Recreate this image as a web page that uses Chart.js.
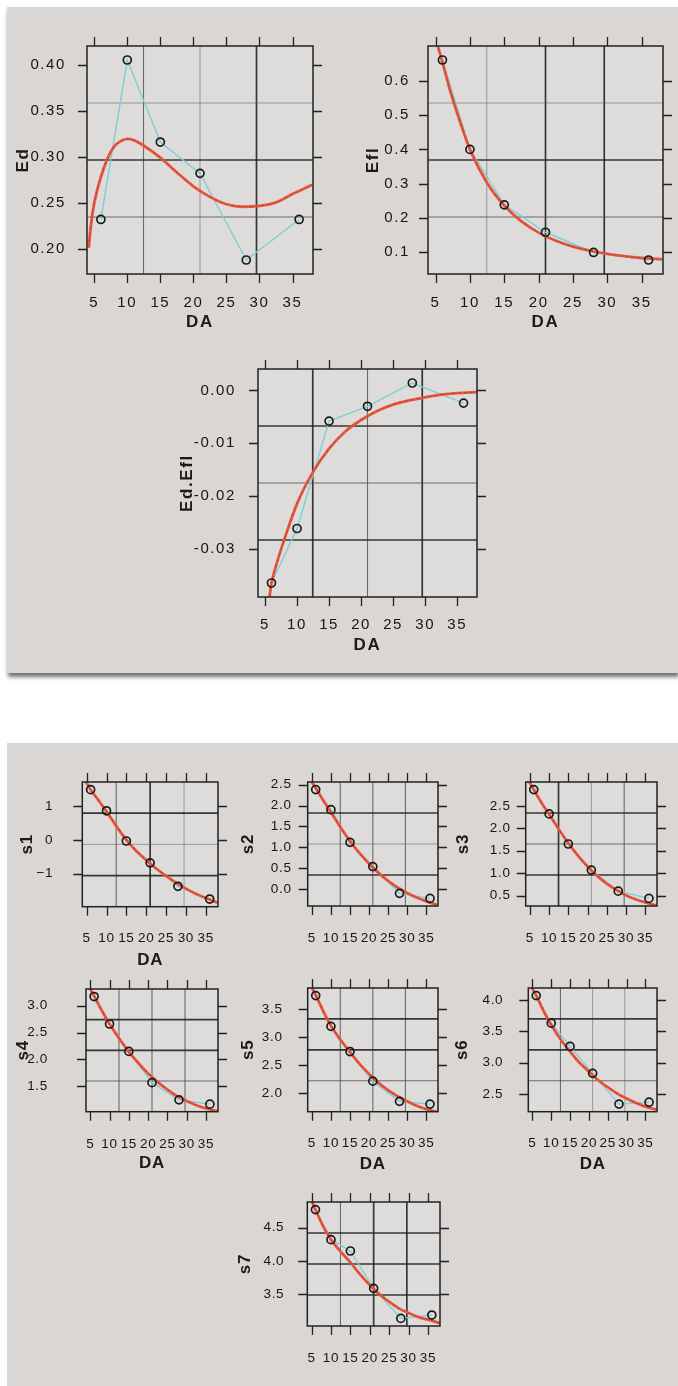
<!DOCTYPE html>
<html><head><meta charset="utf-8">
<script src="https://cdn.jsdelivr.net/npm/chart.js@4.4.1/dist/chart.umd.min.js"></script>
<style>
html,body{margin:0;padding:0;background:#fff;}
body{width:678px;height:1386px;position:relative;overflow:hidden;}
.bg{position:absolute;background:#d9d6d3;}
#bgTop{left:7px;top:7px;width:671px;height:666px;box-shadow:1px 4px 4px rgba(0,0,0,0.55);}
#bgBot{left:7px;top:743px;width:671px;height:643px;}
canvas{position:absolute;}
</style></head><body>
<div class="bg" id="bgTop"></div><div class="bg" id="bgBot"></div>
<script>
// ---------------- data ----------------
const DA = [6, 10, 15, 21, 28, 36];
const xTicks = [5, 10, 15, 20, 25, 30, 35];
const xTickLabels = ['5', '10', '15', '20', '25', '30', '35'];

const Ed    = [0.232, 0.405, 0.316, 0.282, 0.188, 0.232];
const Efl   = [0.661, 0.400, 0.238, 0.158, 0.099, 0.077];
const EdEfl = [-0.0364, -0.0261, -0.0058, -0.0030, 0.0014, -0.0024];
const s1 = [1.50, 0.87, -0.03, -0.68, -1.38, -1.76];
const s2 = [2.38, 1.90, 1.12, 0.54, -0.10, -0.22];
const s3 = [2.86, 2.32, 1.65, 1.07, 0.60, 0.44];
const s4 = [3.17, 2.66, 2.15, 1.57, 1.25, 1.17];
const s5 = [3.74, 3.19, 2.74, 2.21, 1.85, 1.80];
const s6 = [4.07, 3.63, 3.26, 2.83, 2.34, 2.37];
const s7 = [4.77, 4.32, 4.15, 3.59, 3.14, 3.19];

// fitted curves
const fitDA_Ed = [4.16, 4.5, 5, 6, 7, 8, 9, 10, 11, 12.5, 15, 17.5, 20, 22.5, 25, 27.5, 30, 32.5, 35, 38];
const fitEd    = [0.2015, 0.226, 0.250, 0.278, 0.298, 0.311, 0.317, 0.3195, 0.318, 0.312, 0.299, 0.283, 0.268, 0.2565, 0.2485, 0.2458, 0.2467, 0.2505, 0.2595, 0.2697];
const fitDA_Efl = [5.2, 6, 7, 8, 9, 10, 12.5, 15, 17.5, 20, 22.5, 25, 27.5, 30, 32.5, 35, 38];
const fitEfl    = [0.71, 0.655, 0.58, 0.515, 0.455, 0.40, 0.302, 0.236, 0.19, 0.157, 0.133, 0.116, 0.104, 0.095, 0.088, 0.083, 0.079];
const fitDA_EdEfl = [5.7, 6, 7, 8, 10, 12.5, 15, 17.5, 20, 22.5, 25, 27.5, 30, 32.5, 35, 38.4];
const fitEdEfl    = [-0.039, -0.0365, -0.032, -0.0282, -0.0214, -0.0154, -0.011, -0.0078, -0.0056, -0.0039, -0.0027, -0.0019, -0.0013, -0.0008, -0.0005, -0.0003];
const fitDA_s = [4.5, 6, 8, 10, 12.5, 15, 17.5, 20, 22.5, 25, 27.5, 30, 32.5, 35, 38];
const fit1 = [1.80, 1.50, 1.18, 0.85, 0.41, 0.00, -0.33, -0.60, -0.85, -1.07, -1.27, -1.45, -1.60, -1.73, -1.87];
const fit2 = [2.62, 2.42, 2.12, 1.84, 1.48, 1.15, 0.86, 0.61, 0.39, 0.20, 0.04, -0.09, -0.20, -0.29, -0.38];
const fit3 = [3.08, 2.86, 2.57, 2.31, 1.98, 1.67, 1.39, 1.15, 0.94, 0.77, 0.63, 0.51, 0.42, 0.35, 0.28];
const fit4 = [3.38, 3.18, 2.91, 2.66, 2.39, 2.14, 1.93, 1.74, 1.58, 1.44, 1.32, 1.23, 1.15, 1.09, 1.04];
const fit5 = [3.95, 3.75, 3.46, 3.20, 2.95, 2.73, 2.52, 2.34, 2.18, 2.05, 1.94, 1.85, 1.77, 1.71, 1.66];
const fit6 = [4.23, 4.07, 3.82, 3.60, 3.37, 3.18, 3.00, 2.86, 2.72, 2.61, 2.51, 2.43, 2.36, 2.30, 2.25];
const fit7 = [4.97, 4.77, 4.52, 4.32, 4.14, 3.98, 3.80, 3.64, 3.50, 3.39, 3.29, 3.22, 3.16, 3.12, 3.07];

// y tick values / labels
const ticksEd = [0.20, 0.25, 0.30, 0.35, 0.40];
const labelsEd = ['0.20', '0.25', '0.30', '0.35', '0.40'];
const ticksEfl = [0.1, 0.2, 0.3, 0.4, 0.5, 0.6];
const labelsEfl = ['0.1', '0.2', '0.3', '0.4', '0.5', '0.6'];
const ticksEdEfl = [-0.03, -0.02, -0.01, 0.0];
const labelsEdEfl = ['-0.03', '-0.02', '-0.01', '0.00'];
const ticks1 = [-1, 0, 1];          const labels1 = ['\u22121', '0', '1'];
const ticks2 = [0, 0.5, 1, 1.5, 2, 2.5]; const labels2 = ['0.0', '0.5', '1.0', '1.5', '2.0', '2.5'];
const ticks3 = [0.5, 1, 1.5, 2, 2.5];   const labels3 = ['0.5', '1.0', '1.5', '2.0', '2.5'];
const ticks4 = [1.5, 2, 2.5, 3];        const labels4 = ['1.5', '2.0', '2.5', '3.0'];
const ticks5 = [2, 2.5, 3, 3.5];        const labels5 = ['2.0', '2.5', '3.0', '3.5'];
const ticks6 = [2.5, 3, 3.5, 4];        const labels6 = ['2.5', '3.0', '3.5', '4.0'];
const ticks7 = [3.5, 4, 4.5];           const labels7 = ['3.5', '4.0', '4.5'];

// ---------------- layout / style ----------------
Chart.defaults.font.family = '"Liberation Sans", Arial, Helvetica, sans-serif';
Chart.defaults.color = '#1a1a1a';
Chart.defaults.animation = false;

const GRID_STYLE = [
  {c: 'rgba(95,95,95,0.55)', w: 1},
  {c: 'rgba(70,70,70,0.75)', w: 1.1},
  {c: 'rgba(35,35,35,0.9)', w: 1.7}
];

function padRange(arr) {
  const mn = Math.min(...arr), mx = Math.max(...arr), r = mx - mn;
  return [mn - 0.07 * r, mx + 0.07 * r];
}

const framePlugin = {
  id: 'frame',
  beforeDraw(chart, args, o) {
    const ctx = chart.ctx, a = chart.chartArea;
    ctx.save();
    ctx.fillStyle = '#dddcdb';
    ctx.fillRect(a.left, a.top, a.right - a.left, a.bottom - a.top);
    ctx.restore();
    try { ctx.letterSpacing = o.ls + 'px'; } catch (e) {}
  },
  beforeDatasetsDraw(chart, args, o) {
    const ctx = chart.ctx, a = chart.chartArea, xs = chart.scales.x, ys = chart.scales.y;
    ctx.save();
    o.gv.forEach((s, i) => {
      const px = xs.getPixelForValue(xs.min + (xs.max - xs.min) * (i + 1) / 4);
      const st = GRID_STYLE[s];
      ctx.strokeStyle = st.c; ctx.lineWidth = st.w;
      ctx.beginPath(); ctx.moveTo(px, a.top); ctx.lineTo(px, a.bottom); ctx.stroke();
    });
    o.gh.forEach((s, i) => {
      const py = ys.getPixelForValue(ys.max - (ys.max - ys.min) * (i + 1) / 4);
      const st = GRID_STYLE[s];
      ctx.strokeStyle = st.c; ctx.lineWidth = st.w;
      ctx.beginPath(); ctx.moveTo(a.left, py); ctx.lineTo(a.right, py); ctx.stroke();
    });
    ctx.restore();
  },
  afterDatasetsDraw(chart, args, o) {
    const ctx = chart.ctx, a = chart.chartArea, xs = chart.scales.x, ys = chart.scales.y, tl = o.tl;
    ctx.save();
    ctx.strokeStyle = '#222'; ctx.lineWidth = 1.3;
    ctx.beginPath();
    xs.ticks.forEach(t => {
      const px = Math.round(xs.getPixelForValue(t.value)) + 0.5;
      ctx.moveTo(px, a.bottom); ctx.lineTo(px, a.bottom + tl);
      ctx.moveTo(px, a.top); ctx.lineTo(px, a.top - tl);
    });
    ys.ticks.forEach(t => {
      const py = Math.round(ys.getPixelForValue(t.value)) + 0.5;
      ctx.moveTo(a.left - tl, py); ctx.lineTo(a.left, py);
      ctx.moveTo(a.right, py); ctx.lineTo(a.right + tl, py);
    });
    ctx.stroke();
    ctx.lineWidth = 1.5;
    ctx.strokeRect(a.left, a.top, a.right - a.left, a.bottom - a.top);
    ctx.restore();
  }
};

const panels = [
  {y: Ed, fx: fitDA_Ed, fy: fitEd, yt: ticksEd, yl: labelsEd, title: 'Ed',
   box: [87, 46, 313, 274], ytx: 23, xty: 322, yg: 13, xg: 12, tf: 15, ls: 1.6, gv: [1, 0, 2], gh: [0, 2, 1]},
  {y: Efl, fx: fitDA_Efl, fy: fitEfl, yt: ticksEfl, yl: labelsEfl, title: 'Efl',
   box: [428, 46, 663, 274], ytx: 373, xty: 322, yg: 10, xg: 12, tf: 15, ls: 1.6, gv: [0, 2, 2], gh: [0, 2, 1]},
  {y: EdEfl, fx: fitDA_EdEfl, fy: fitEdEfl, yt: ticksEdEfl, yl: labelsEdEfl, title: 'Ed.Efl',
   box: [258, 369, 477, 597], ytx: 187, xty: 645, yg: 14, xg: 10.7, tf: 15, ls: 1.6, gv: [2, 1, 2], gh: [2, 1, 2]},
  {y: s1, fx: fitDA_s, fy: fit1, yt: ticks1, yl: labels1, title: 's1',
   box: [82.3, 782.3, 218.3, 906.7], ytx: 27, xty: 960, yg: 21, xg: 15.4, tf: 13.5, ls: 0.7, gv: [1, 2, 0], gh: [2, 0, 2]},
  {y: s2, fx: fitDA_s, fy: fit2, yt: ticks2, yl: labels2, title: 's2',
   box: [307.7, 782.3, 438.3, 906], ytx: 248, xty: null, yg: 8, xg: 16.2, tf: 13.5, ls: 0.7, gv: [1, 1, 1], gh: [2, 0, 2]},
  {y: s3, fx: fitDA_s, fy: fit3, yt: ticks3, yl: labels3, title: 's3',
   box: [525.7, 782.3, 656.7, 906], ytx: 463, xty: null, yg: 7, xg: 16.2, tf: 13.5, ls: 0.7, gv: [2, 0, 1], gh: [2, 1, 2]},
  {y: s4, fx: fitDA_s, fy: fit4, yt: ticks4, yl: labels4, title: 's4',
   box: [86, 989, 218.3, 1111.7], ytx: 23, xty: 1163, yg: 30, xg: 16.4, tf: 13.5, ls: 0.7, gv: [1, 1, 1], gh: [2, 2, 1]},
  {y: s5, fx: fitDA_s, fy: fit5, yt: ticks5, yl: labels5, title: 's5',
   box: [307.7, 988.3, 438.3, 1111.7], ytx: 248, xty: 1164, yg: 17, xg: 15.4, tf: 13.5, ls: 0.7, gv: [1, 1, 1], gh: [2, 2, 1]},
  {y: s6, fx: fitDA_s, fy: fit6, yt: ticks6, yl: labels6, title: 's6',
   box: [528.3, 988.3, 656.7, 1111.7], ytx: 462, xty: 1164, yg: 17, xg: 15.4, tf: 13.5, ls: 0.7, gv: [1, 0, 0], gh: [2, 2, 1]},
  {y: s7, fx: fitDA_s, fy: fit7, yt: ticks7, yl: labels7, title: 's7',
   box: [307.3, 1202.3, 440, 1326], ytx: 245, xty: null, yg: 15, xg: 16.2, tf: 13.5, ls: 0.7, gv: [1, 2, 2], gh: [2, 2, 2]}
];

const xr = padRange(DA);

panels.forEach(p => {
  const [l, t, r, b] = p.box;
  const TF = 17, lh = TF * 1.2;
  const padL = l - p.ytx + 14;
  const padT = 40, padR = 22;
  const padB = p.xty ? (p.xty + 14 - b) : 45;
  const cw = Math.round(r - l + padL + padR), chH = Math.round(b - t + padT + padB);
  const cv = document.createElement('canvas');
  cv.width = cw; cv.height = chH;
  cv.style.left = (l - padL) + 'px'; cv.style.top = (t - padT) + 'px';
  cv.style.width = cw + 'px'; cv.style.height = chH + 'px';
  document.body.appendChild(cv);
  const yr = padRange(p.y);
  new Chart(cv, {
    type: 'scatter',
    data: {
      datasets: [
        {data: DA.map((x, i) => ({x, y: p.y[i]})), showLine: true, borderColor: '#80cdd4', borderWidth: 1.4,
         pointRadius: 0, tension: 0, order: 4, clip: 0},
        {data: p.fx.map((x, i) => ({x, y: p.fy[i]})), showLine: true, borderColor: '#e9553d', borderWidth: 2.8,
         pointRadius: 0, cubicInterpolationMode: 'monotone', order: 3, clip: 0},
        {data: p.fx.map((x, i) => ({x, y: p.fy[i]})), showLine: true, borderColor: 'rgba(150,55,35,0.5)', borderWidth: 1,
         borderDash: [3, 3], pointRadius: 0, cubicInterpolationMode: 'monotone', order: 2, clip: 0},
        {data: DA.map((x, i) => ({x, y: p.y[i]})), showLine: false, pointRadius: 4, pointBorderWidth: 1.7,
         pointBorderColor: '#1b1b1b', pointBackgroundColor: 'rgba(0,0,0,0)', order: 1, clip: false}
      ]
    },
    options: {
      responsive: false, devicePixelRatio: 1, animation: false,
      layout: {padding: {left: 0, top: padT, right: padR, bottom: 0}},
      plugins: {legend: {display: false}, tooltip: {enabled: false},
                frame: {tl: 9, gv: p.gv, gh: p.gh, ls: p.ls}},
      scales: {
        x: {type: 'linear', min: xr[0], max: xr[1],
            afterBuildTicks: s => { s.ticks = xTicks.map(v => ({value: v})); },
            afterFit: s => { s.height = padB; },
            grid: {display: false}, border: {display: false},
            ticks: {callback: (v, i) => xTickLabels[i], padding: p.xg, font: {size: p.tf}, maxRotation: 0, autoSkip: false, color: '#151515'},
            title: {display: !!p.xty, text: 'DA', font: {size: TF, weight: 'bold'}, color: '#1a1a1a', padding: {top: 0, bottom: 14 - lh / 2}}},
        y: {type: 'linear', min: yr[0], max: yr[1],
            afterBuildTicks: s => { s.ticks = p.yt.map(v => ({value: v})); },
            afterFit: s => { s.width = padL; },
            grid: {display: false}, border: {display: false},
            ticks: {callback: (v, i) => p.yl[i], padding: p.yg, font: {size: p.tf}, autoSkip: false, color: '#151515'},
            title: {display: true, text: p.title, font: {size: TF, weight: 'bold'}, color: '#1a1a1a', padding: {top: 14 - lh / 2, bottom: 0}}}
      }
    },
    plugins: [framePlugin]
  });
});
</script>
</body></html>
